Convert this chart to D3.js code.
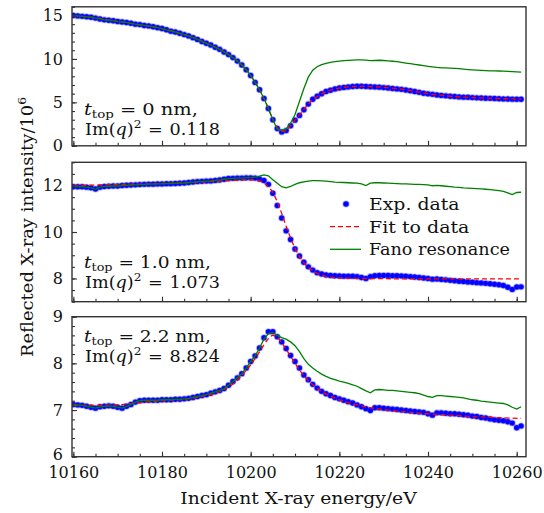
<!DOCTYPE html>
<html>
<head>
<meta charset="utf-8">
<script src="https://cdn.jsdelivr.net/npm/d3@7/dist/d3.min.js"></script>
<style>
  html, body { margin: 0; padding: 0; background: #fff; }
  svg { display: block; }
</style>
</head>
<body>
<svg id="chart" width="544" height="513"></svg>
<script>
// ---------- data ----------
const energy = d3.range(10160, 10262, 1); // 10160 ... 10261 eV, 1 eV step

const exp1 = [15.0,14.95,14.9,14.85,14.8,14.7,14.6,14.5,14.45,14.4,14.3,14.25,14.2,14.1,14.0,13.95,13.85,13.8,13.7,13.6,
  13.5,13.35,13.2,13.1,12.95,12.8,12.65,12.45,12.25,12.0,11.8,11.6,11.35,11.1,10.8,10.5,10.15,9.75,9.3,8.75,
  8.1,7.3,6.45,5.45,4.3,3.0,2.0,1.6,1.75,2.3,2.95,3.5,4.15,4.8,5.35,5.7,6.0,6.25,6.4,6.55,
  6.65,6.72,6.78,6.82,6.85,6.85,6.83,6.8,6.78,6.75,6.7,6.65,6.6,6.55,6.5,6.42,6.35,6.25,6.15,6.05,
  5.98,5.92,5.85,5.8,5.75,5.7,5.67,5.63,5.6,5.58,5.55,5.52,5.5,5.48,5.46,5.44,5.42,5.4,5.38,5.37,5.35,5.35];
const fano1 = [15.0,14.95,14.9,14.85,14.8,14.7,14.6,14.5,14.45,14.4,14.3,14.25,14.2,14.1,14.0,13.95,13.85,13.8,13.7,13.6,
  13.5,13.35,13.2,13.1,12.95,12.8,12.65,12.45,12.25,12.0,11.8,11.6,11.35,11.1,10.8,10.5,10.15,9.75,9.3,8.75,
  8.1,7.3,6.45,5.45,4.3,3.0,1.9,1.75,1.95,2.6,3.6,5.1,6.6,7.9,8.7,9.1,9.35,9.5,9.6,9.68,
  9.75,9.8,9.83,9.86,9.88,9.9,9.85,9.8,9.82,9.85,9.82,9.78,9.73,9.68,9.6,9.52,9.45,9.37,9.3,9.22,
  9.15,9.08,9.02,8.98,8.96,8.94,8.92,8.88,8.83,8.78,8.74,8.71,8.68,8.65,8.63,8.62,8.61,8.6,8.57,8.53,8.5,8.48];
const fitE1 = [10160,10165,10170,10175,10180,10185,10188,10190,10192,10194,10196,10198,10200,10201,10202,10203,10204,10205,10206,10207,
  10208,10209,10210,10211,10212,10213,10214,10215,10216,10218,10220,10222,10224,10226,10228,10230,10234,10238,10242,10246,10250,10255,10261];
const fit1 = [14.98,14.72,14.32,13.93,13.5,12.8,12.27,11.82,11.36,10.82,10.17,9.3,8.1,7.32,6.45,5.45,4.28,3.05,2.1,1.65,
  1.75,2.3,2.95,3.55,4.18,4.8,5.3,5.68,5.98,6.4,6.65,6.78,6.84,6.84,6.79,6.72,6.52,6.18,5.86,5.66,5.55,5.45,5.36];

const exp2 = [11.95,11.95,11.95,11.93,11.9,11.85,11.93,11.96,11.97,11.98,11.98,12.0,12.01,12.02,12.03,12.04,12.05,12.06,12.06,12.07,
  12.07,12.08,12.08,12.09,12.1,12.11,12.13,12.15,12.17,12.18,12.19,12.2,12.22,12.24,12.27,12.3,12.31,12.32,12.32,12.33,
  12.33,12.32,12.28,12.22,12.05,11.67,11.14,10.6,10.05,9.68,9.27,8.97,8.7,8.5,8.36,8.25,8.19,8.15,8.13,8.12,
  8.11,8.1,8.1,8.1,8.08,8.04,8.0,8.08,8.12,8.13,8.13,8.13,8.12,8.12,8.11,8.1,8.08,8.06,8.04,8.02,
  8.0,7.97,7.98,7.96,7.94,7.92,7.9,7.88,7.87,7.85,7.84,7.82,7.81,7.79,7.77,7.75,7.73,7.7,7.62,7.53,7.63,7.64];
const fano2 = [11.95,11.95,11.95,11.93,11.9,11.85,11.93,11.96,11.97,11.98,11.98,12.0,12.01,12.02,12.03,12.04,12.05,12.06,12.06,12.07,
  12.07,12.08,12.08,12.09,12.1,12.11,12.13,12.15,12.17,12.18,12.19,12.2,12.22,12.24,12.27,12.3,12.31,12.32,12.32,12.33,
  12.34,12.36,12.4,12.46,12.42,12.25,12.1,11.95,11.9,11.96,12.05,12.12,12.16,12.19,12.21,12.21,12.2,12.19,12.17,12.15,
  12.14,12.13,12.12,12.11,12.1,12.07,12.0,12.1,12.12,12.12,12.11,12.1,12.09,12.08,12.07,12.07,12.06,12.05,12.05,12.04,
  12.03,11.99,12.01,11.99,11.97,11.95,11.93,11.92,11.9,11.89,11.88,11.87,11.86,11.84,11.82,11.8,11.78,11.75,11.68,11.61,11.7,11.71];
const fitE2 = [10160,10165,10170,10175,10180,10185,10190,10195,10198,10200,10201,10202,10203,10204,10205,10206,10207,10208,10209,10210,
  10211,10212,10213,10214,10215,10216,10217,10218,10220,10225,10230,10240,10250,10261];
const fit2 = [12.0,12.02,12.04,12.06,12.09,12.12,12.16,12.21,12.24,12.25,12.24,12.2,12.1,11.95,11.7,11.3,10.8,10.25,9.75,9.3,
  8.95,8.68,8.48,8.33,8.22,8.14,8.09,8.05,8.02,8.0,7.99,7.98,7.98,7.98];

const exp3 = [7.12,7.11,7.1,7.08,7.06,7.04,7.07,7.08,7.09,7.08,7.06,7.04,7.08,7.12,7.17,7.2,7.21,7.21,7.21,7.21,
  7.22,7.22,7.22,7.23,7.23,7.24,7.25,7.27,7.29,7.31,7.33,7.36,7.39,7.42,7.46,7.53,7.61,7.69,7.78,7.9,
  8.04,8.16,8.33,8.55,8.68,8.68,8.57,8.46,8.32,8.17,8.04,7.9,7.75,7.65,7.55,7.47,7.4,7.35,7.31,7.27,
  7.24,7.21,7.18,7.15,7.11,7.07,7.03,6.99,7.05,7.05,7.04,7.03,7.02,7.01,7.0,6.99,6.98,6.97,6.96,6.95,
  6.92,6.89,6.94,6.94,6.93,6.92,6.92,6.91,6.9,6.89,6.87,6.86,6.84,6.83,6.81,6.79,6.78,6.77,6.75,6.72,6.62,6.66];
const fano3 = [7.12,7.11,7.1,7.08,7.06,7.04,7.07,7.08,7.09,7.08,7.06,7.04,7.08,7.12,7.17,7.2,7.21,7.21,7.21,7.21,
  7.22,7.22,7.22,7.23,7.23,7.24,7.25,7.27,7.29,7.31,7.33,7.36,7.39,7.42,7.46,7.53,7.61,7.69,7.78,7.9,
  8.04,8.16,8.33,8.52,8.64,8.66,8.6,8.55,8.52,8.46,8.38,8.25,8.1,7.98,7.9,7.83,7.77,7.72,7.68,7.65,
  7.62,7.6,7.57,7.54,7.51,7.46,7.41,7.37,7.43,7.44,7.43,7.42,7.42,7.41,7.4,7.39,7.38,7.37,7.35,7.32,
  7.29,7.27,7.31,7.31,7.3,7.29,7.28,7.27,7.26,7.24,7.22,7.21,7.19,7.18,7.17,7.16,7.15,7.14,7.11,7.06,7.02,7.07];
const fitE3 = [10160,10165,10170,10175,10180,10185,10188,10190,10192,10194,10196,10198,10200,10201,10202,10203,10204,10205,10206,10207,
  10208,10209,10210,10211,10212,10213,10214,10216,10218,10220,10222,10224,10226,10230,10235,10240,10245,10250,10255,10261];
const fit3 = [7.1,7.1,7.11,7.16,7.2,7.23,7.27,7.31,7.36,7.44,7.56,7.74,7.97,8.1,8.25,8.4,8.53,8.6,8.56,8.45,
  8.3,8.15,8.0,7.86,7.74,7.63,7.54,7.4,7.3,7.22,7.16,7.11,7.07,7.01,6.96,6.92,6.89,6.86,6.84,6.82];

const xTicks = [10160, 10180, 10200, 10220, 10240, 10260];
const xMinorTicks = d3.range(10160, 10261, 5);
const yTicks1 = [0, 5, 10, 15];
const yTicks2 = [8, 10, 12];
const yTicks3 = [6, 7, 8, 9];

const panelLabels = [
  { t: "0", q: "0.118" },
  { t: "1.0", q: "1.073" },
  { t: "2.2", q: "8.824" }
];
const legendLabels = ["Exp. data", "Fit to data", "Fano resonance"];

// ---------- layout ----------
const FONT = "DejaVu Serif";
const svg = d3.select("#chart");
const left = 72, right = 526;
const x = d3.scaleLinear().domain([10159.7, 10262.1]).range([left, right]);

const panels = [
  { top: 6.8, bottom: 145.8, domain: [0, 16], ticks: yTicks1, minorStep: 1, exp: exp1, fano: fano1, fitE: fitE1, fit: fit1,
    ann: [115, 135], annW: [114, 135] },
  { top: 162.3, bottom: 301.7, domain: [7, 13], ticks: yTicks2, minorStep: 0.5, exp: exp2, fano: fano2, fitE: fitE2, fit: fit2,
    ann: [268, 288], annW: [127, 135] },
  { top: 316.7, bottom: 456.7, domain: [6, 9], ticks: yTicks3, minorStep: 0.2, exp: exp3, fano: fano3, fitE: fitE3, fit: fit3,
    ann: [341.5, 361.5], annW: [127, 135] }
];

const axisColor = "#333";

// stretch a text horizontally (in its own direction) to a target width
function stretchTo(textSel, x0, y0, target, rot) {
  const w = textSel.node().getBBox().width;
  const k = target / w;
  textSel.attr("x", 0).attr("y", 0)
    .attr("transform", `translate(${x0},${y0})${rot ? ` rotate(${rot})` : ""} scale(${k},1)`);
}

panels.forEach((p, i) => {
  const y = d3.scaleLinear().domain(p.domain).range([p.bottom, p.top]);
  const g = svg.append("g");

  const clipId = "clip" + i;
  svg.append("clipPath").attr("id", clipId).append("rect")
    .attr("x", left).attr("y", p.top).attr("width", right - left).attr("height", p.bottom - p.top);
  const plot = g.append("g").attr("clip-path", `url(#${clipId})`);

  // exp data dots
  plot.selectAll("circle.exp").data(energy).join("circle")
    .attr("class", "exp")
    .attr("cx", (d) => x(d))
    .attr("cy", (d, k) => y(p.exp[k]))
    .attr("r", 2.7)
    .attr("fill", "#0000ff")
    .attr("stroke", "rgba(40,40,255,0.35)")
    .attr("stroke-width", 1.6);

  // fit
  const fitLine = d3.line().x((d) => x(d)).y((d, k) => y(p.fit[k])).curve(d3.curveMonotoneX);
  plot.append("path").attr("d", fitLine(p.fitE))
    .attr("fill", "none").attr("stroke", "#ff0000").attr("stroke-width", 1.3)
    .attr("stroke-dasharray", "5,3");

  // fano
  const fanoLine = d3.line().x((d) => x(d)).y((d, k) => y(p.fano[k]));
  plot.append("path").attr("d", fanoLine(energy))
    .attr("fill", "none").attr("stroke", "#008000").attr("stroke-width", 1.3);

  // axes - left
  const yMinor = d3.range(p.domain[0], p.domain[1] + 1e-9, p.minorStep).map((v) => +v.toFixed(3));
  const gyMinor = g.append("g").attr("transform", `translate(${left},0)`)
    .call(d3.axisLeft(y).tickValues(yMinor).tickSize(-3).tickFormat(""));
  const gy = g.append("g").attr("transform", `translate(${left},0)`)
    .call(d3.axisLeft(y).tickValues(p.ticks).tickSize(-5).tickPadding(9).tickFormat(d3.format("d")));
  // axes - bottom
  const gxMinor = g.append("g").attr("transform", `translate(0,${p.bottom})`)
    .call(d3.axisBottom(x).tickValues(xMinorTicks).tickSize(-3).tickFormat(""));
  const gx = g.append("g").attr("transform", `translate(0,${p.bottom})`)
    .call(d3.axisBottom(x).tickValues(xTicks).tickSize(-5).tickPadding(10)
      .tickFormat(i === 2 ? d3.format("d") : ""));

  [gyMinor, gy, gxMinor, gx].forEach((a) => {
    a.select(".domain").remove();
    a.selectAll("line").attr("stroke", axisColor).attr("stroke-width", 1.1);
    a.attr("font-family", FONT).attr("font-size", 16);
    a.selectAll("text").attr("fill", "#111");
  });
  // keep the lowest y label clear of the x tick labels
  if (i === 2) {
    gy.selectAll(".tick").filter((d) => d === p.domain[0]).select("text").attr("y", -2);
  }

  // frame
  g.append("rect").attr("x", left).attr("y", p.top)
    .attr("width", right - left).attr("height", p.bottom - p.top)
    .attr("fill", "none").attr("stroke", axisColor).attr("stroke-width", 1.4);

  // annotation
  const a1 = g.append("text")
    .attr("font-family", FONT).attr("font-size", 16).attr("fill", "#111");
  a1.append("tspan").attr("font-style", "italic").text("t");
  a1.append("tspan").attr("font-size", 11).attr("dy", 3).text("top");
  a1.append("tspan").attr("dy", -3).attr("dx", 5).text("=");
  a1.append("tspan").attr("dx", 5).text(panelLabels[i].t);
  a1.append("tspan").attr("dx", 5).text("nm,");
  stretchTo(a1, 84, p.ann[0], p.annW[0]);

  const a2 = g.append("text")
    .attr("font-family", FONT).attr("font-size", 16).attr("fill", "#111");
  a2.append("tspan").text("Im(");
  a2.append("tspan").attr("font-style", "italic").text("q");
  a2.append("tspan").text(")");
  a2.append("tspan").attr("font-size", 11).attr("dy", -7).text("2");
  a2.append("tspan").attr("dy", 7).attr("dx", 6).text("=");
  a2.append("tspan").attr("dx", 6).text(panelLabels[i].q);
  stretchTo(a2, 85, p.ann[1], p.annW[1]);
});

// legend (panel 2)
const lg = svg.append("g").attr("font-family", FONT).attr("font-size", 16).attr("fill", "#111");
const legRows = [204, 226.7, 249.3];
const legW = [91, 101, 141];
lg.append("circle").attr("cx", 346).attr("cy", legRows[0]).attr("r", 2.8)
  .attr("fill", "#0000ff").attr("stroke", "rgba(40,40,255,0.35)").attr("stroke-width", 1.6);
lg.append("line").attr("x1", 330).attr("x2", 361).attr("y1", legRows[1]).attr("y2", legRows[1])
  .attr("stroke", "#ff0000").attr("stroke-width", 1.3).attr("stroke-dasharray", "5,3");
lg.append("line").attr("x1", 330).attr("x2", 361).attr("y1", legRows[2]).attr("y2", legRows[2])
  .attr("stroke", "#008000").attr("stroke-width", 1.3);
legendLabels.forEach((t, k) => {
  const tx = lg.append("text").text(t);
  stretchTo(tx, 369, legRows[k] + 6, legW[k]);
});

// axis titles
const xl = svg.append("text").attr("text-anchor", "middle")
  .attr("font-family", FONT).attr("font-size", 16).attr("fill", "#111")
  .text("Incident X-ray energy/eV");
stretchTo(xl, 298.5, 504, 237);

const yl = svg.append("text")
  .attr("text-anchor", "middle").attr("font-family", FONT).attr("font-size", 16).attr("fill", "#111");
yl.append("tspan").text("Reflected X-ray intensity/10");
yl.append("tspan").attr("font-size", 11).attr("dy", -7).text("6");
stretchTo(yl, 33, 227, 260, -90);
</script>
</body>
</html>
